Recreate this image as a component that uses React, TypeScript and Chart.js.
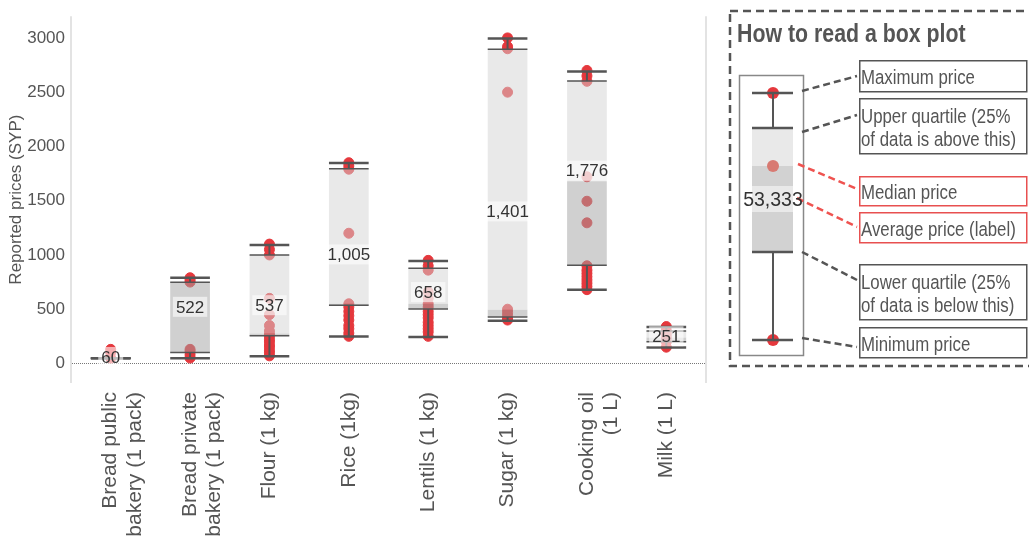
import React, { useEffect, useRef } from "react";
import { Chart, registerables } from "chart.js";

Chart.register(...registerables);

// ---------- data ----------
const categories: (string | string[])[] = [
  ["Bread public", "bakery (1 pack)"],
  ["Bread private", "bakery (1 pack)"],
  "Flour (1 kg)",
  "Rice (1kg)",
  "Lentils (1 kg)",
  "Sugar (1 kg)",
  ["Cooking oil", "(1 L)"],
  "Milk (1 L)",
];
const minPrices = [48, 48, 67, 248, 245, 394, 679, 147];
const q1Prices = [48, 100, 255, 537, 502, 428, 905, 199];
const medianPrices = [48, 748, 275, 550, 550, 495, 1679, 240];
const q3Prices = [48, 748, 1000, 1794, 878, 2896, 2602, 300];
const maxPrices = [48, 789, 1092, 1847, 945, 2994, 2691, 335];
const averagePrices = [60, 522, 537, 1005, 658, 1401, 1776, 251];

const breadPublicPrices = [130, 100, 50];
const breadPrivatePrices = [790, 770, 750, 130, 110, 80, 50];
const flourPrices = [1100, 1050, 1000, 600, 450, 350, 300, 270, 250, 220, 200, 170, 150, 120, 100, 70];
const ricePrices = [1850, 1820, 1790, 1200, 550, 520, 480, 440, 400, 350, 320, 280, 250];
const lentilsPrices = [950, 900, 860, 660, 600, 550, 520, 480, 450, 420, 380, 350, 320, 290, 250];
const sugarPrices = [3000, 2920, 2900, 2500, 500, 470, 440, 410, 400];
const oilPrices = [2700, 2650, 2600, 1720, 1495, 1296, 900, 860, 830, 800, 770, 740, 710, 680];
const milkPrices = [340, 300, 270, 240, 200, 150];
const pricesByCategory = [
  breadPublicPrices,
  breadPrivatePrices,
  flourPrices,
  ricePrices,
  lentilsPrices,
  sugarPrices,
  oilPrices,
  milkPrices,
];

const yTickValues = [0, 500, 1000, 1500, 2000, 2500, 3000];
const yMin = -180;
const yMax = 3200;

const FONT = "'Liberation Sans', Arial, sans-serif";
const NARROW_SCALE = 0.82;

const boxPlugin = {
  id: "boxExtras",
  beforeDatasetsDraw(chart: any) {
    const { ctx, chartArea: a, scales } = chart;
    const y = scales.y;
    ctx.save();
    ctx.strokeStyle = "#e3e3e3";
    ctx.lineWidth = 2;
    ctx.beginPath();
    ctx.moveTo(a.left, a.top);
    ctx.lineTo(a.left, a.bottom);
    ctx.moveTo(a.right, a.top);
    ctx.lineTo(a.right, a.bottom);
    ctx.stroke();
    const y0 = Math.round(y.getPixelForValue(0)) + 0.5;
    ctx.strokeStyle = "#777";
    ctx.lineWidth = 1;
    ctx.setLineDash([1, 1]);
    ctx.beginPath();
    ctx.moveTo(a.left + 1, y0);
    ctx.lineTo(a.right - 1, y0);
    ctx.stroke();
    ctx.restore();
  },
  afterDatasetsDraw(chart: any) {
    const { ctx, scales } = chart;
    const x = scales.x;
    const y = scales.y;
    const meta = chart.getDatasetMeta(1);
    ctx.save();
    const line = (x1: number, y1: number, x2: number, y2: number) => {
      ctx.beginPath();
      ctx.moveTo(x1, y1);
      ctx.lineTo(x2, y2);
      ctx.stroke();
    };
    ctx.strokeStyle = "#555";
    for (let i = 0; i < categories.length; i++) {
      const cx = x.getPixelForValue(i);
      const el = meta.data[i];
      const half = (el && el.width ? el.width : 40) / 2;
      const pMin = y.getPixelForValue(minPrices[i]);
      const pQ1 = y.getPixelForValue(q1Prices[i]);
      const pQ3 = y.getPixelForValue(q3Prices[i]);
      const pMax = y.getPixelForValue(maxPrices[i]);
      ctx.lineWidth = 2;
      line(cx, pMax, cx, pQ3);
      line(cx, pQ1, cx, pMin);
      ctx.lineWidth = 1.5;
      line(cx - half, pQ3, cx + half, pQ3);
      line(cx - half, pQ1, cx + half, pQ1);
      ctx.lineWidth = 2.5;
      line(cx - half, pMax, cx + half, pMax);
      line(cx - half, pMin, cx + half, pMin);
    }
    ctx.font = `17px ${FONT}`;
    ctx.textAlign = "center";
    ctx.textBaseline = "middle";
    for (let i = 0; i < categories.length; i++) {
      const cx = x.getPixelForValue(i);
      const ym = y.getPixelForValue(averagePrices[i]);
      const txt = averagePrices[i].toLocaleString("en-US");
      const tw = ctx.measureText(txt).width;
      ctx.fillStyle = "rgba(255,255,255,0.6)";
      ctx.fillRect(cx - tw / 2 - 3, ym - 10, tw + 6, 20);
      ctx.fillStyle = "#333";
      ctx.fillText(txt, cx, ym + 1);
    }
    ctx.restore();
  },
};

function ChartPanel() {
  const ref = useRef<HTMLCanvasElement | null>(null);
  useEffect(() => {
    if (!ref.current) return;
    const points: { x: any; y: number }[] = [];
    pricesByCategory.forEach((arr, i) =>
      arr.forEach((v) => points.push({ x: categories[i], y: v }))
    );
    const chart = new Chart(ref.current, {
      type: "bar",
      data: {
        labels: categories as any,
        datasets: [
          {
            type: "scatter",
            data: points as any,
            backgroundColor: "#e5383d",
            borderColor: "#e5383d",
            borderWidth: 1,
            pointRadius: 5,
            order: 3,
          } as any,
          {
            type: "bar",
            data: categories.map((_, i) => [q1Prices[i], medianPrices[i]]) as any,
            backgroundColor: "rgba(161,161,161,0.5)",
            grouped: false,
            barPercentage: 0.5,
            categoryPercentage: 1,
            order: 2,
          } as any,
          {
            type: "bar",
            data: categories.map((_, i) => [medianPrices[i], q3Prices[i]]) as any,
            backgroundColor: "rgba(211,211,211,0.5)",
            grouped: false,
            barPercentage: 0.5,
            categoryPercentage: 1,
            order: 1,
          } as any,
        ],
      },
      options: {
        animation: false,
        responsive: true,
        maintainAspectRatio: false,
        layout: { padding: { top: 15, right: 14, left: 0, bottom: 0 } },
        plugins: { legend: { display: false }, tooltip: { enabled: false } },
        scales: {
          x: {
            offset: true,
            grid: { display: false, drawTicks: false },
            border: { display: false },
            ticks: {
              color: "#555",
              font: { family: FONT, size: 21, lineHeight: 1.15 },
              padding: 9,
              minRotation: 90,
              maxRotation: 90,
              autoSkip: false,
            },
            afterFit: (s: any) => {
              s.height = 158;
            },
          },
          y: {
            min: yMin,
            max: yMax,
            grid: { display: false, drawTicks: false },
            border: { display: false },
            ticks: {
              color: "#555",
              font: { family: FONT, size: 17 },
              padding: 6,
              callback: (v: any) => String(v),
            },
            afterBuildTicks: (s: any) => {
              s.ticks = yTickValues.map((v) => ({ value: v }));
            },
            title: {
              display: true,
              text: "Reported prices (SYP)",
              color: "#555",
              font: { family: FONT, size: 17 },
              padding: { top: 6, bottom: 0 },
            },
            afterFit: (s: any) => {
              s.width = 71;
            },
          },
        },
      },
      plugins: [boxPlugin],
    });
    return () => chart.destroy();
  }, []);
  return (
    <div style={{ position: "absolute", left: 0, top: 0, width: 720, height: 541 }}>
      <canvas ref={ref} />
    </div>
  );
}

const legendBoxes = [
  { top: 60, h: 31, red: false, lines: ["Maximum price"] },
  { top: 98, h: 55, red: false, lines: ["Upper quartile (25%", "of data is above this)"] },
  { top: 176, h: 29, red: true, lines: ["Median price"] },
  { top: 212, h: 30, red: true, lines: ["Average price (label)"] },
  { top: 264, h: 55, red: false, lines: ["Lower quartile (25%", "of data is below this)"] },
  { top: 327, h: 30, red: false, lines: ["Minimum price"] },
];

const connectors = [
  { x1: 802, y1: 91, x2: 857, y2: 76, red: false },
  { x1: 802, y1: 132, x2: 857, y2: 115, red: false },
  { x1: 798, y1: 164, x2: 857, y2: 189, red: true },
  { x1: 797, y1: 198, x2: 857, y2: 227, red: true },
  { x1: 802, y1: 252, x2: 857, y2: 280, red: false },
  { x1: 802, y1: 338, x2: 857, y2: 347, red: false },
];

function LegendPanel() {
  return (
    <>
      <svg
        width={1029}
        height={541}
        style={{ position: "absolute", left: 0, top: 0, pointerEvents: "none" }}
      >
        <rect x={730} y={11} width={320} height={355} fill="none" stroke="#555" strokeWidth={2.5} strokeDasharray="8 5" />
        <rect x={739.5} y={75.5} width={64} height={280} fill="none" stroke="#888" strokeWidth={1.5} />
        <rect x={752} y={128} width={41} height={38} fill="#e9e9e9" />
        <rect x={752} y={166} width={41} height={86} fill="#d2d2d2" />
        <rect x={752} y={186} width={41} height={26} fill="rgba(255,255,255,0.5)" />
        <circle cx={773} cy={93} r={6} fill="#e5383d" />
        <circle cx={773} cy={340} r={6} fill="#e5383d" />
        <circle cx={773} cy={166} r={6} fill="#d87a72" />
        <line x1={773} y1={93} x2={773} y2={128} stroke="#555" strokeWidth={2} />
        <line x1={773} y1={252} x2={773} y2={340} stroke="#555" strokeWidth={2} />
        <line x1={752} y1={93} x2={793} y2={93} stroke="#555" strokeWidth={2.5} />
        <line x1={752} y1={128} x2={793} y2={128} stroke="#555" strokeWidth={2.5} />
        <line x1={752} y1={252} x2={793} y2={252} stroke="#555" strokeWidth={2.5} />
        <line x1={752} y1={340} x2={793} y2={340} stroke="#555" strokeWidth={2.5} />
        {connectors.map((c, i) => (
          <line
            key={i}
            x1={c.x1}
            y1={c.y1}
            x2={c.x2}
            y2={c.y2}
            stroke={c.red ? "#ef5350" : "#555"}
            strokeWidth={2.5}
            strokeDasharray="7 4"
          />
        ))}
        {legendBoxes.map((b, i) => (
          <rect
            key={i}
            x={859.75}
            y={b.top + 0.75}
            width={167}
            height={b.h}
            fill="none"
            stroke={b.red ? "#e85050" : "#555"}
            strokeWidth={1.5}
          />
        ))}
      </svg>
      <div
        style={{
          position: "absolute",
          left: 737,
          top: 20,
          fontFamily: FONT,
          fontWeight: "bold",
          fontSize: 26,
          lineHeight: "26px",
          color: "#555",
          whiteSpace: "nowrap",
          transform: `scaleX(${NARROW_SCALE})`,
          transformOrigin: "0 0",
        }}
      >
        How to read a box plot
      </div>
      <div
        style={{
          position: "absolute",
          left: 733,
          width: 80,
          top: 189,
          textAlign: "center",
          fontFamily: FONT,
          fontSize: 19.5,
          lineHeight: "20px",
          color: "#333",
        }}
      >
        53,333
      </div>
      {legendBoxes.map((b, i) => (
        <div
          key={i}
          style={{
            position: "absolute",
            left: 861,
            top: b.top + 1,
            width: 200,
            height: b.h,
            display: "flex",
            flexDirection: "column",
            justifyContent: "center",
            fontFamily: FONT,
            fontSize: 20.5,
            lineHeight: "23px",
            color: "#555",
            whiteSpace: "nowrap",
            transform: `scaleX(${NARROW_SCALE})`,
            transformOrigin: "0 0",
          }}
        >
          {b.lines.map((l, j) => (
            <div key={j}>{l}</div>
          ))}
        </div>
      ))}
    </>
  );
}

export default function App() {
  return (
    <div style={{ position: "absolute", left: 0, top: 0, width: 1029, height: 541, background: "#fff" }}>
      <ChartPanel />
      <LegendPanel />
    </div>
  );
}
